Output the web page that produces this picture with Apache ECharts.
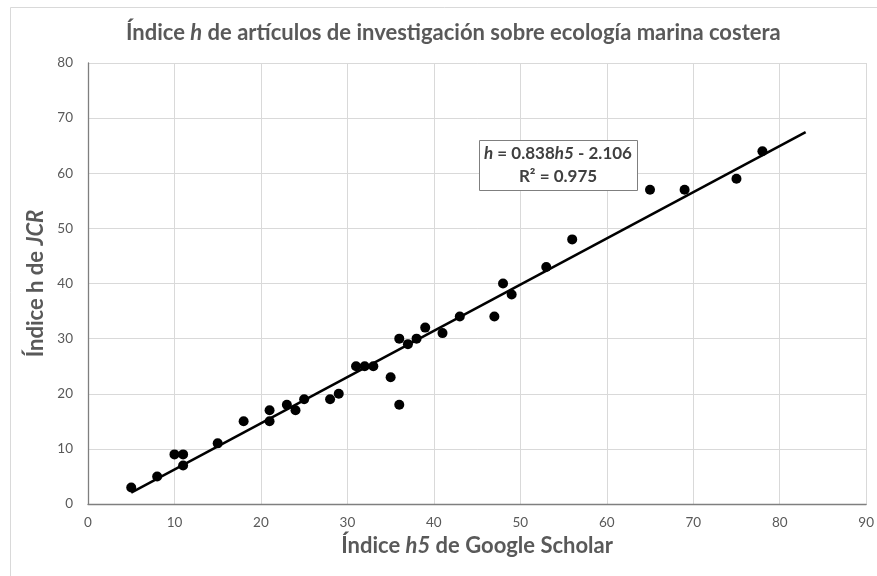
<!DOCTYPE html>
<html>
<head>
<meta charset="utf-8">
<script src="https://cdn.jsdelivr.net/npm/echarts@6/dist/echarts.min.js"></script>
<style>
  html, body { margin: 0; padding: 0; background: #fff; }
  #chart { width: 877px; height: 576px; }
</style>
</head>
<body>
<div id="chart"></div>
<script>
// índice h5 (Google Scholar) frente a índice h (JCR)
const h5Values = [5, 8, 10, 11, 11, 15, 18, 21, 21, 23, 24, 25, 28, 29, 31, 32, 33,
  35, 36, 36, 37, 38, 39, 41, 43, 47, 48, 49, 53, 56, 65, 69, 75, 78];
const hValues = [3, 5, 9, 9, 7, 11, 15, 17, 15, 18, 17, 19, 19, 20, 25, 25, 25,
  23, 18, 30, 29, 30, 32, 31, 34, 34, 40, 38, 43, 48, 57, 57, 59, 64];

// línea de tendencia (extremos)
const trendX = [5, 83];
const trendY = [2.08, 67.45];

const xTicks = { min: 0, max: 90, interval: 10 };
const yTicks = { min: 0, max: 80, interval: 10 };

const FONT = 'Lato, "Open Sans", sans-serif';
const GRAY = '#595959';

const points = h5Values.map((x, i) => [x, hValues[i]]);
const trend = trendX.map((x, i) => [x, trendY[i]]);

const chart = echarts.init(document.getElementById('chart'));
chart.setOption({
    animation: false,
    backgroundColor: '#fff',
    title: {
        text: '{a|Índice }{i|h}{a| de artículos de investigación sobre ecología marina costera}',
        left: 121,
        top: 17,
        textStyle: {
            rich: {
                a: { fontFamily: FONT, fontSize: 22, fontWeight: 'bold', color: GRAY },
                i: { fontFamily: FONT, fontSize: 22, fontWeight: 'bold', fontStyle: 'italic', color: GRAY }
            }
        }
    },
    grid: { left: 88, right: 10, top: 63, bottom: 72 },
    xAxis: {
        type: 'value',
        min: xTicks.min, max: xTicks.max, interval: xTicks.interval,
        name: '{a|Índice }{i|h5}{a| de Google Scholar}',
        nameLocation: 'middle',
        nameGap: 30,
        nameTextStyle: {
            rich: {
                a: { fontFamily: FONT, fontSize: 22, fontWeight: 'bold', color: GRAY },
                i: { fontFamily: FONT, fontSize: 22, fontWeight: 'bold', fontStyle: 'italic', color: GRAY }
            }
        },
        axisLine: { show: true, onZero: false, lineStyle: { color: '#7f7f7f', width: 1.3 } },
        axisTick: { show: false },
        axisLabel: { fontFamily: FONT, fontSize: 13.5, color: GRAY, margin: 12 },
        splitLine: { show: true, lineStyle: { color: '#d9d9d9', width: 1 } }
    },
    yAxis: {
        type: 'value',
        min: yTicks.min, max: yTicks.max, interval: yTicks.interval,
        name: '{a|Índice h de }{i|JCR}',
        nameLocation: 'middle',
        nameGap: 32,
        nameTextStyle: {
            rich: {
                a: { fontFamily: FONT, fontSize: 22, fontWeight: 'bold', color: GRAY },
                i: { fontFamily: FONT, fontSize: 22, fontWeight: 'bold', fontStyle: 'italic', color: GRAY }
            }
        },
        axisLine: { show: true, onZero: false, lineStyle: { color: '#7f7f7f', width: 1.3 } },
        axisTick: { show: false },
        axisLabel: { fontFamily: FONT, fontSize: 13.5, color: GRAY, margin: 15 },
        splitLine: { show: true, lineStyle: { color: '#d9d9d9', width: 1 } }
    },
    series: [
        {
            name: 'tendencia',
            type: 'line',
            data: trend,
            symbol: 'none',
            lineStyle: { color: '#000', width: 2.5 },
            z: 2
        },
        {
            name: 'revistas',
            type: 'scatter',
            data: points,
            symbol: 'circle',
            symbolSize: 10,
            itemStyle: { color: '#000', opacity: 1 },
            z: 3
        }
    ],
    graphic: [
        {
            type: 'rect',
            shape: { x: 10.5, y: 7.5, width: 900, height: 600 },
            style: { fill: 'none', stroke: '#d9d9d9', lineWidth: 1 },
            silent: true
        },
        {
            type: 'rect',
            shape: { x: 479.5, y: 140.5, width: 158, height: 50 },
            style: { fill: '#fff', stroke: '#7f7f7f', lineWidth: 1 },
            z: 10
        },
        {
            type: 'text',
            x: 558, y: 154,
            style: {
                text: '{i|h}{a| = 0.838}{i|h5}{a| - 2.106}',
                align: 'center', verticalAlign: 'middle',
                rich: {
                    a: { fontFamily: FONT, fontSize: 17, fontWeight: 'bold', fill: '#404040' },
                    i: { fontFamily: FONT, fontSize: 17, fontWeight: 'bold', fontStyle: 'italic', fill: '#404040' }
                }
            },
            z: 11
        },
        {
            type: 'text',
            x: 558, y: 177,
            style: {
                text: 'R² = 0.975',
                align: 'center', verticalAlign: 'middle',
                font: 'bold 17px ' + FONT,
                fill: '#404040'
            },
            z: 11
        }
    ]
});
</script>
</body>
</html>
